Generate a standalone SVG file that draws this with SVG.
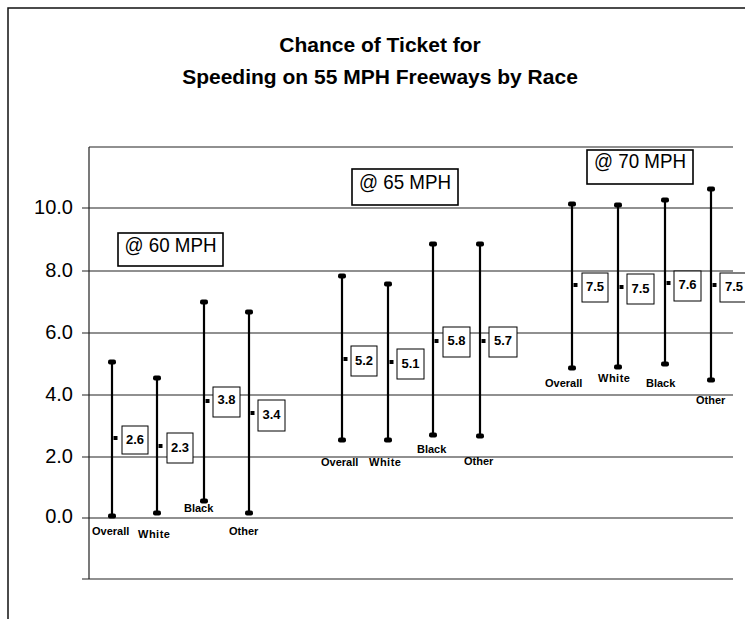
<svg xmlns="http://www.w3.org/2000/svg" width="745" height="619" viewBox="0 0 745 619">
<style>
.t{font-family:"Liberation Sans",Arial,sans-serif;font-weight:bold;font-size:21px;fill:#000;text-anchor:middle}
.tick{font-family:"Liberation Sans",Arial,sans-serif;font-size:20px;fill:#000;text-anchor:end}
.lab{font-family:"Liberation Sans",Arial,sans-serif;font-weight:bold;font-size:11px;fill:#000}
.val{font-family:"Liberation Sans",Arial,sans-serif;font-weight:bold;font-size:13px;fill:#000;text-anchor:middle}
.sp{font-family:"Liberation Sans",Arial,sans-serif;font-size:21px;fill:#000;text-anchor:middle}
.grid{stroke:#222;stroke-width:1.2;fill:none}
.frame{stroke:#111;stroke-width:1.5;fill:none}
.bar{stroke:#000;stroke-width:2.2}
.box{fill:#fff;stroke:#000;stroke-width:1}
.sbox{fill:#fff;stroke:#000;stroke-width:1.6}
</style>
<defs>
<rect id="cap" x="-4" y="-2.5" width="8" height="5" rx="2" fill="#000"/>
<rect id="dot" x="1.5" y="-2" width="4" height="4" fill="#000"/>
</defs>
<rect width="745" height="619" fill="#fff"/>
<g id="frame">
<path class="frame" d="M8 619V8H745"/>
</g>
<g id="title">
<text class="t" x="380" y="52">Chance of Ticket for</text>
<text class="t" x="380" y="84">Speeding on 55 MPH Freeways by Race</text>
</g>
<g id="connectors">
<path class="grid" d="M89 147H733M82 208H733M82 271H733M82 333H733M82 395H733M82 457H733M82 518H733M82 579H733M89 147V579"/>
</g>
<g id="axis-labels">
<text class="tick" x="73" y="214">10.0</text>
<text class="tick" x="73" y="277">8.0</text>
<text class="tick" x="73" y="339">6.0</text>
<text class="tick" x="73" y="401">4.0</text>
<text class="tick" x="73" y="463">2.0</text>
<text class="tick" x="73" y="523">0.0</text>
</g>
<g id="speed60">
<rect class="sbox" x="118" y="233" width="105" height="33"/>
<text class="sp" x="170.5" y="252" textLength="92" lengthAdjust="spacingAndGlyphs">@ 60 MPH</text>
</g>
<g id="speed65">
<rect class="sbox" x="352" y="169" width="106" height="36"/>
<text class="sp" x="405" y="189" textLength="92" lengthAdjust="spacingAndGlyphs">@ 65 MPH</text>
</g>
<g id="speed70">
<rect class="sbox" x="587" y="150" width="106" height="34"/>
<text class="sp" x="640" y="168" textLength="92" lengthAdjust="spacingAndGlyphs">@ 70 MPH</text>
</g>
<g id="s60-overall">
<line class="bar" x1="112" y1="362" x2="112" y2="516"/>
<use href="#cap" x="112" y="362"/><use href="#cap" x="112" y="516"/>
<use href="#dot" x="112" y="438"/>
<rect class="box" x="122" y="426" width="26" height="28"/>
<text class="val" x="135" y="444">2.6</text>
<text class="lab" x="92" y="535">Overall</text>
</g>
<g id="s60-white">
<line class="bar" x1="157" y1="378" x2="157" y2="513"/>
<use href="#cap" x="157" y="378"/><use href="#cap" x="157" y="513"/>
<use href="#dot" x="157" y="446"/>
<rect class="box" x="167" y="433" width="26" height="30"/>
<text class="val" x="180" y="452">2.3</text>
<text class="lab" x="138" y="538" letter-spacing="0.5">White</text>
</g>
<g id="s60-black">
<line class="bar" x1="204" y1="302" x2="204" y2="501"/>
<use href="#cap" x="204" y="302"/><use href="#cap" x="204" y="501"/>
<use href="#dot" x="204" y="401"/>
<rect class="box" x="213" y="387" width="27" height="30"/>
<text class="val" x="226.5" y="404">3.8</text>
<text class="lab" x="184" y="512">Black</text>
</g>
<g id="s60-other">
<line class="bar" x1="249" y1="312" x2="249" y2="513"/>
<use href="#cap" x="249" y="312"/><use href="#cap" x="249" y="513"/>
<use href="#dot" x="249" y="413"/>
<rect class="box" x="258" y="400" width="27" height="31"/>
<text class="val" x="271.5" y="419">3.4</text>
<text class="lab" x="229" y="535">Other</text>
</g>
<g id="s65-overall">
<line class="bar" x1="342" y1="276" x2="342" y2="440"/>
<use href="#cap" x="342" y="276"/><use href="#cap" x="342" y="440"/>
<use href="#dot" x="342" y="359"/>
<rect class="box" x="351" y="346" width="26" height="30"/>
<text class="val" x="364" y="365">5.2</text>
<text class="lab" x="321" y="466">Overall</text>
</g>
<g id="s65-white">
<line class="bar" x1="388" y1="284" x2="388" y2="440"/>
<use href="#cap" x="388" y="284"/><use href="#cap" x="388" y="440"/>
<use href="#dot" x="388" y="362"/>
<rect class="box" x="397" y="349" width="27" height="30"/>
<text class="val" x="410.5" y="368">5.1</text>
<text class="lab" x="369" y="466" letter-spacing="0.5">White</text>
</g>
<g id="s65-black">
<line class="bar" x1="433" y1="244" x2="433" y2="435"/>
<use href="#cap" x="433" y="244"/><use href="#cap" x="433" y="435"/>
<use href="#dot" x="433" y="341"/>
<rect class="box" x="443" y="327" width="27" height="30"/>
<text class="val" x="456.5" y="345">5.8</text>
<text class="lab" x="417" y="453">Black</text>
</g>
<g id="s65-other">
<line class="bar" x1="480" y1="244" x2="480" y2="436"/>
<use href="#cap" x="480" y="244"/><use href="#cap" x="480" y="436"/>
<use href="#dot" x="480" y="341"/>
<rect class="box" x="489" y="327" width="28" height="30"/>
<text class="val" x="503" y="345">5.7</text>
<text class="lab" x="464" y="465">Other</text>
</g>
<g id="s70-overall">
<line class="bar" x1="572" y1="204" x2="572" y2="368"/>
<use href="#cap" x="572" y="204"/><use href="#cap" x="572" y="368"/>
<use href="#dot" x="572" y="285"/>
<rect class="box" x="582" y="273" width="26" height="29"/>
<text class="val" x="595" y="291">7.5</text>
<text class="lab" x="545" y="387">Overall</text>
</g>
<g id="s70-white">
<line class="bar" x1="618" y1="205" x2="618" y2="367"/>
<use href="#cap" x="618" y="205"/><use href="#cap" x="618" y="367"/>
<use href="#dot" x="618" y="287"/>
<rect class="box" x="627" y="274" width="27" height="30"/>
<text class="val" x="640.5" y="293">7.5</text>
<text class="lab" x="598" y="382" letter-spacing="0.5">White</text>
</g>
<g id="s70-black">
<line class="bar" x1="665" y1="200" x2="665" y2="364"/>
<use href="#cap" x="665" y="200"/><use href="#cap" x="665" y="364"/>
<use href="#dot" x="665" y="283"/>
<rect class="box" x="674" y="271" width="27" height="30"/>
<text class="val" x="687.5" y="289">7.6</text>
<text class="lab" x="646" y="387">Black</text>
</g>
<g id="s70-other">
<line class="bar" x1="711" y1="189" x2="711" y2="380"/>
<use href="#cap" x="711" y="189"/><use href="#cap" x="711" y="380"/>
<use href="#dot" x="711" y="285"/>
<rect class="box" x="720" y="273" width="27" height="29"/>
<text class="val" x="734" y="291">7.5</text>
<text class="lab" x="696" y="404">Other</text>
</g>
</svg>
